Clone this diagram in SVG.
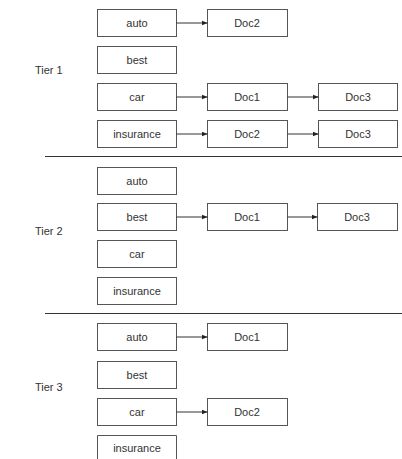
<svg xmlns="http://www.w3.org/2000/svg" width="402" height="459" viewBox="0 0 402 459">
<defs>
<style>
rect{fill:#fff;stroke:#555;stroke-width:1}
text{font-family:"Liberation Sans",Arial,sans-serif;font-size:11px;fill:#333;text-anchor:middle}
.lab{text-anchor:start}
.sep{stroke:#333;stroke-width:1}
.c{stroke:#333;stroke-width:1;fill:none;marker-end:url(#ah)}
</style>
<marker id="ah" viewBox="0 0 6 6" refX="6" refY="3" markerWidth="6" markerHeight="6" markerUnits="userSpaceOnUse" orient="auto">
<path d="M0,0.5 L6,3 L0,5.5 Z" fill="#222"/>
</marker>
</defs>
<rect x="0" y="0" width="402" height="459" style="fill:#fff;stroke:none"/>
<text class="lab" x="35" y="74">Tier 1</text>
<text class="lab" x="35" y="235">Tier 2</text>
<text class="lab" x="35" y="391">Tier 3</text>
<line class="sep" x1="45" y1="156.5" x2="402" y2="156.5"/>
<line class="sep" x1="45" y1="313.5" x2="402" y2="313.5"/>
<g id="t1-auto"><rect x="97.5" y="9.5" width="79" height="27"/><text x="137" y="27">auto</text></g>
<g id="t1-best"><rect x="97.5" y="46.5" width="79" height="27"/><text x="137" y="64">best</text></g>
<g id="t1-car"><rect x="97.5" y="83.5" width="79" height="27"/><text x="137" y="101">car</text></g>
<g id="t1-insurance"><rect x="97.5" y="120.5" width="79" height="27"/><text x="137" y="138">insurance</text></g>
<g id="t1-doc2a"><rect x="207.5" y="9.5" width="80" height="27"/><text x="247" y="27">Doc2</text></g>
<g id="t1-doc1"><rect x="207.5" y="83.5" width="80" height="27"/><text x="247" y="101">Doc1</text></g>
<g id="t1-doc3a"><rect x="318.5" y="83.5" width="79" height="27"/><text x="358" y="101">Doc3</text></g>
<g id="t1-doc2b"><rect x="207.5" y="120.5" width="80" height="27"/><text x="247" y="138">Doc2</text></g>
<g id="t1-doc3b"><rect x="318.5" y="120.5" width="79" height="27"/><text x="358" y="138">Doc3</text></g>
<g id="t2-auto"><rect x="97.5" y="167.5" width="79" height="27"/><text x="137" y="185">auto</text></g>
<g id="t2-best"><rect x="97.5" y="203.5" width="79" height="27"/><text x="137" y="221">best</text></g>
<g id="t2-car"><rect x="97.5" y="240.5" width="79" height="27"/><text x="137" y="258">car</text></g>
<g id="t2-insurance"><rect x="97.5" y="277.5" width="79" height="27"/><text x="137" y="295">insurance</text></g>
<g id="t2-doc1"><rect x="207.5" y="203.5" width="80" height="27"/><text x="247" y="221">Doc1</text></g>
<g id="t2-doc3"><rect x="317.5" y="203.5" width="80" height="27"/><text x="357" y="221">Doc3</text></g>
<g id="t3-auto"><rect x="97.5" y="323.5" width="79" height="27"/><text x="137" y="341">auto</text></g>
<g id="t3-best"><rect x="97.5" y="361.5" width="79" height="27"/><text x="137" y="379">best</text></g>
<g id="t3-car"><rect x="97.5" y="398.5" width="79" height="27"/><text x="137" y="416">car</text></g>
<g id="t3-insurance"><path d="M97.5,460 V435.5 H176.5 V460" style="fill:#fff;stroke:#555;stroke-width:1"/><text x="137" y="452">insurance</text></g>
<g id="t3-doc1"><rect x="207.5" y="323.5" width="80" height="27"/><text x="247" y="341">Doc1</text></g>
<g id="t3-doc2"><rect x="207.5" y="398.5" width="80" height="27"/><text x="247" y="416">Doc2</text></g>
<g id="connectors">
<line class="c" x1="176.5" y1="23" x2="207.5" y2="23"/>
<line class="c" x1="176.5" y1="97" x2="207.5" y2="97"/>
<line class="c" x1="287.5" y1="97" x2="318.5" y2="97"/>
<line class="c" x1="176.5" y1="134" x2="207.5" y2="134"/>
<line class="c" x1="287.5" y1="134" x2="318.5" y2="134"/>
<line class="c" x1="176.5" y1="217" x2="207.5" y2="217"/>
<line class="c" x1="287.5" y1="217" x2="317.5" y2="217"/>
<line class="c" x1="176.5" y1="337" x2="207.5" y2="337"/>
<line class="c" x1="176.5" y1="412" x2="207.5" y2="412"/>
</g>
</svg>
